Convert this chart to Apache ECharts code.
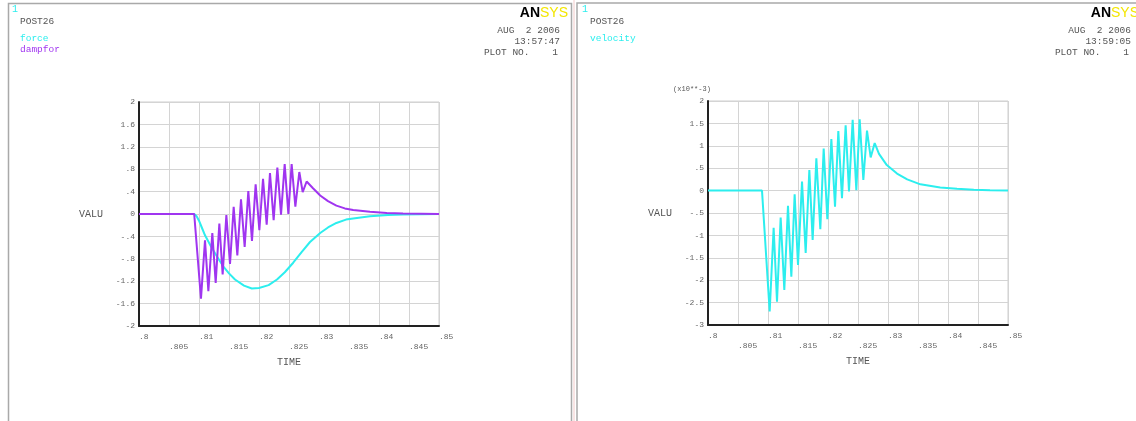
<!DOCTYPE html>
<html>
<head>
<meta charset="utf-8">
<title>POST26</title>
<script src="https://cdn.jsdelivr.net/npm/echarts@6/dist/echarts.min.js"></script>
<style>
  html, body { margin: 0; padding: 0; background: #fff; }
  #chart { width: 1136px; height: 421px; }
</style>
</head>
<body>
<div id="chart"></div>
<script>
// force (N) against time (s)
const forceT = [0.800, 0.8092, 0.8096, 0.8100, 0.8105, 0.8110, 0.8120, 0.8130, 0.8140, 0.8150, 0.8160, 0.8175, 0.8188,
                0.8200, 0.8216, 0.8230, 0.8243, 0.8257, 0.8271, 0.8285, 0.8302, 0.8315, 0.8329, 0.8345, 0.8357,
                0.8385, 0.8415, 0.8440, 0.8500];
const forceV = [0, 0, -0.04, -0.12, -0.25, -0.38, -0.58, -0.76, -0.93, -1.06, -1.17, -1.28, -1.33,
                -1.32, -1.27, -1.17, -1.04, -0.87, -0.68, -0.50, -0.34, -0.24, -0.16, -0.10, -0.08,
                -0.04, -0.02, -0.01, 0];

// damping force against time
const dampT = [0.800, 0.8092, 0.81033, 0.8110, 0.81156, 0.81222, 0.81278, 0.81339, 0.81394, 0.81456, 0.81517,
               0.81578, 0.81639, 0.8170, 0.81761, 0.81822, 0.81883, 0.81944, 0.82006, 0.82067, 0.82128,
               0.82183, 0.82244, 0.82306, 0.82367, 0.82428, 0.82489, 0.82544, 0.82606, 0.82672, 0.82728,
               0.82794, 0.8290, 0.8302, 0.8315, 0.8329, 0.8343, 0.8357, 0.8385, 0.8413, 0.8440, 0.8500];
const dampV = [0, 0, -1.51, -0.47, -1.38, -0.34, -1.23, -0.17, -1.08, -0.02, -0.89,
               0.13, -0.74, 0.26, -0.59, 0.41, -0.48, 0.53, -0.29, 0.63, -0.19,
               0.73, -0.11, 0.83, -0.01, 0.89, 0.0, 0.89, 0.13, 0.75, 0.39,
               0.58, 0.46, 0.33, 0.23, 0.15, 0.10, 0.07, 0.04, 0.02, 0.01, 0];

// velocity (x10**-3) against time
const velT = [0.800, 0.8090, 0.81028, 0.81094, 0.8115, 0.81211, 0.81272, 0.81333, 0.81389, 0.81444, 0.8150,
              0.81567, 0.81628, 0.81689, 0.81744, 0.81806, 0.81872, 0.81928, 0.81989, 0.82056, 0.82117,
              0.82172, 0.82233, 0.82294, 0.8235, 0.82411, 0.82472, 0.82528, 0.82589, 0.8265, 0.82711,
              0.82778, 0.8285, 0.8298, 0.8315, 0.8332, 0.8354, 0.8387, 0.8415, 0.8443, 0.8470, 0.8500];
const velV = [0, 0, -2.70, -0.83, -2.48, -0.60, -2.22, -0.34, -1.92, -0.08, -1.66,
              0.20, -1.39, 0.46, -1.10, 0.72, -0.86, 0.94, -0.64, 1.15, -0.36,
              1.33, -0.17, 1.46, -0.02, 1.58, 0.01, 1.59, 0.24, 1.34, 0.74,
              1.06, 0.82, 0.57, 0.38, 0.25, 0.14, 0.07, 0.04, 0.02, 0.01, 0];

// axis ranges and steps
const timeRange = [0.8, 0.85, 0.005];
const leftRange = [-2, 2, 0.4];
const rightRange = [-3, 2, 0.5];

// header lines
const leftHeader = { title: 'POST26', labels: ['force', 'dampfor'], date: 'AUG  2 2006', time: '13:57:47', plot: 'PLOT NO.    1' };
const rightHeader = { title: 'POST26', labels: ['velocity'], date: 'AUG  2 2006', time: '13:59:05', plot: 'PLOT NO.    1' };

const CYAN = '#2ceeee';
const PURPLE = '#a035f0';
const TXT = '#555';
const MONO = '"Liberation Mono", "DejaVu Sans Mono", monospace';

function pairs(t, v) { return t.map((x, i) => [x, v[i]]); }

function shortNum(v) {
  const s = String(parseFloat(v.toFixed(4)));
  return s.replace(/^0\./, '.').replace(/^-0\./, '-.');
}

function xAxisFor(gridIndex) {
  return {
    type: 'value', gridIndex,
    min: timeRange[0], max: timeRange[1], interval: timeRange[2],
    name: 'TIME', nameLocation: 'middle', nameGap: 24,
    nameTextStyle: { color: TXT, fontFamily: MONO, fontSize: 10 },
    axisLine: { show: true, onZero: false, lineStyle: { color: '#222', width: 2 } },
    axisTick: { show: false },
    splitLine: { show: true, lineStyle: { color: '#d4d4d4', width: 1 } },
    axisLabel: {
      color: '#666', fontFamily: MONO, fontSize: 8, lineHeight: 10, margin: 6,
      align: 'left', showMinLabel: true, showMaxLabel: true,
      formatter: function (v) {
        const k = Math.round((v - timeRange[0]) / timeRange[2]);
        const s = shortNum(v);
        return k % 2 === 1 ? '\n' + s : s;
      }
    }
  };
}

function yAxisFor(gridIndex, r) {
  return {
    type: 'value', gridIndex,
    min: r[0], max: r[1], interval: r[2],
    name: 'VALU', nameLocation: 'middle', nameRotate: 0, nameGap: 36,
    nameTextStyle: { color: TXT, fontFamily: MONO, fontSize: 10, padding: [0, 0, 7, 0] },
    axisLine: { show: true, onZero: false, lineStyle: { color: '#222', width: 2 } },
    axisTick: { show: false },
    splitLine: { show: true, lineStyle: { color: '#d4d4d4', width: 1 } },
    axisLabel: {
      color: '#666', fontFamily: MONO, fontSize: 8, margin: 4,
      showMinLabel: true, showMaxLabel: true,
      formatter: function (v) { return shortNum(v); }
    }
  };
}

function txt(x, y, text, fill, size, align) {
  return {
    type: 'text', x, y, silent: true,
    style: { text, fill, font: size + 'px ' + MONO, align: align || 'left', verticalAlign: 'middle' }
  };
}

function logo(x, y) {
  return {
    type: 'text', x, y, silent: true,
    style: {
      text: '{a|AN}{s|SYS}', align: 'right', verticalAlign: 'middle',
      rich: {
        a: { fill: '#000', fontWeight: 'bold', fontSize: 14, fontFamily: 'Arial, "Liberation Sans", sans-serif' },
        s: { fill: '#f3e600', fontSize: 14, fontFamily: 'Arial, "Liberation Sans", sans-serif' }
      }
    }
  };
}

function header(h, left, right, colors) {
  const els = [
    txt(left - 8, 9, '1', CYAN, 10),
    txt(left, 21, h.title, TXT, 9.5),
    txt(right, 30, h.date, TXT, 9.5, 'right'),
    txt(right, 41, h.time, TXT, 9.5, 'right'),
    txt(right - 2, 52, h.plot, TXT, 9.5, 'right'),
    logo(right + 8, 13)
  ];
  h.labels.forEach((l, i) => els.push(txt(left, 38 + i * 11, l, colors[i], 9.5)));
  return els;
}

const chart = echarts.init(document.getElementById('chart'), null, { renderer: 'canvas' });

const graphics = [
  // panel frames
  { type: 'rect', silent: true, shape: { x: 8.5, y: 3.5, width: 563, height: 480 },
    style: { fill: 'none', stroke: '#a9a9a9', lineWidth: 1.5 } },
  { type: 'line', silent: true, shape: { x1: 574, y1: 0, x2: 574, y2: 421 },
    style: { stroke: '#f2caca', lineWidth: 1 } },
  { type: 'rect', silent: true, shape: { x: 577, y: 3, width: 600, height: 480 },
    style: { fill: 'none', stroke: '#a9a9a9', lineWidth: 1.5 } },
  // exponent note on the velocity axis
  txt(692, 89, '(x10**-3)', TXT, 7, 'center')
].concat(
  header(leftHeader, 20, 560, [CYAN, PURPLE]),
  header(rightHeader, 590, 1131, [CYAN])
);

chart.setOption({
  animation: false,
  backgroundColor: '#fff',
  grid: [
    { left: 139, top: 102, width: 300, height: 224, show: true, borderColor: '#cfcfcf', borderWidth: 1, backgroundColor: 'transparent' },
    { left: 708, top: 101, width: 300, height: 224, show: true, borderColor: '#cfcfcf', borderWidth: 1, backgroundColor: 'transparent' }
  ],
  xAxis: [xAxisFor(0), xAxisFor(1)],
  yAxis: [yAxisFor(0, leftRange), yAxisFor(1, rightRange)],
  series: [
    { name: 'force', type: 'line', xAxisIndex: 0, yAxisIndex: 0, data: pairs(forceT, forceV),
      showSymbol: false, lineStyle: { color: CYAN, width: 2 }, itemStyle: { color: CYAN }, z: 2 },
    { name: 'dampfor', type: 'line', xAxisIndex: 0, yAxisIndex: 0, data: pairs(dampT, dampV),
      showSymbol: false, lineStyle: { color: PURPLE, width: 2 }, itemStyle: { color: PURPLE }, z: 3 },
    { name: 'velocity', type: 'line', xAxisIndex: 1, yAxisIndex: 1, data: pairs(velT, velV),
      showSymbol: false, lineStyle: { color: CYAN, width: 2 }, itemStyle: { color: CYAN }, z: 2 }
  ],
  graphic: graphics
});
</script>
</body>
</html>
